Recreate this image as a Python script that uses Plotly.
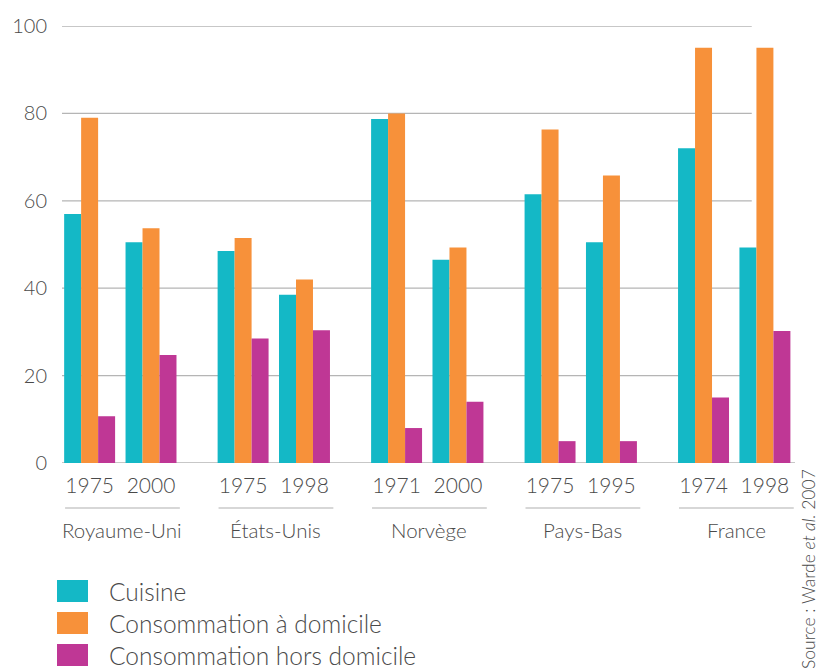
import plotly.graph_objects as go

countries = ["Royaume-Uni", "États-Unis", "Norvège", "Pays-Bas", "France"]
years = ["1975", "2000", "1975", "1998", "1971", "2000", "1975", "1995", "1974", "1998"]
cuisine = [57, 50.5, 48.5, 38.5, 78.7, 46.5, 61.5, 50.5, 72, 49.3]
conso_dom = [79, 53.7, 51.5, 42, 80, 49.3, 76.3, 65.8, 95, 95]
conso_hors = [10.7, 24.7, 28.5, 30.4, 8, 14, 5, 5, 15, 30.2]
series_names = ["Cuisine", "Consommation à domicile", "Consommation hors domicile"]
colors = ["#14b8c6", "#f7913a", "#bf3795"]
yticks = [0, 20, 40, 60, 80, 100]

# x positions: two sub-bars per country, wider gap between countries
xpos = []
for g in range(len(countries)):
    base = g * 2.5
    xpos += [base, base + 1]

fig = go.Figure()
for name, vals, col in zip(series_names, [cuisine, conso_dom, conso_hors], colors):
    fig.add_trace(go.Bar(x=xpos, y=vals, name=name, marker_color=col,
                         marker_line_width=0, showlegend=False))

TXT = "#4a4a4a"
FONT = "Lato"
W = 300

fig.update_layout(
    width=816, height=668,
    margin=dict(l=62, r=21, t=26, b=205),
    paper_bgcolor="white", plot_bgcolor="white",
    barmode="group", bargap=0.17, bargroupgap=0,
    font=dict(family=FONT, color=TXT, weight=W),
)
fig.update_xaxes(range=[-0.45, 11.49], tickvals=xpos, ticktext=years,
                 tickfont=dict(size=21, color=TXT, family=FONT, weight=W),
                 showgrid=False, zeroline=False, showline=False, ticks="",
                 ticklabelstandoff=8)
fig.update_yaxes(range=[0, 100], tickvals=yticks, showgrid=False, zeroline=False,
                 showline=False, ticks="", tickfont=dict(size=20, color=TXT, family=FONT, weight=W),
                 ticklabelstandoff=14)

shapes = []
# gridlines (stop before last group)
for t in yticks[1:]:
    shapes.append(dict(type="line", xref="paper", yref="y", x0=0, x1=0.941, y0=t, y1=t,
                       line=dict(color="#b5b5b5", width=1.3), layer="below"))
# baseline
shapes.append(dict(type="line", xref="paper", yref="y", x0=0, x1=1.0, y0=0, y1=0,
                   line=dict(color="#b5b5b5", width=1.3), layer="below"))

annotations = []
for g, c in enumerate(countries):
    a, b = xpos[2 * g], xpos[2 * g + 1]
    shapes.append(dict(type="line", xref="x", yref="paper", x0=a - 0.4, x1=b + 0.47,
                       y0=-0.103, y1=-0.103, line=dict(color="#b0b0b0", width=1.2)))
    annotations.append(dict(text=c, x=(a + b) / 2 + 0.03, xref="x", y=-0.153, yref="paper",
                            showarrow=False, font=dict(size=20.5, color=TXT, family=FONT, weight=W),
                            xanchor="center", yanchor="middle"))

# legend drawn manually
leg_y = [591, 623, 655]
for name, col, py in zip(series_names, colors, leg_y):
    y0 = (668 - 205 - py) / 437.0
    shapes.append(dict(type="rect", xref="paper", yref="paper",
                       x0=(57 - 62) / 733.0, x1=(88 - 62) / 733.0,
                       y0=y0 - 11 / 437.0, y1=y0 + 11 / 437.0,
                       fillcolor=col, line=dict(width=0)))
    annotations.append(dict(text=name, xref="paper", yref="paper",
                            x=(107 - 62) / 733.0, y=y0, xanchor="left", yanchor="middle",
                            showarrow=False, font=dict(size=24.5, color=TXT, family=FONT, weight=W)))

annotations.append(dict(text="Source : Warde <i>et al.</i> 2007", xref="paper", yref="paper",
                        x=(808 - 62) / 733.0, y=(463 - 467) / 437.0, textangle=-90,
                        xanchor="center", yanchor="top", showarrow=False,
                        font=dict(size=17.5, color=TXT, family=FONT, weight=W)))

fig.update_layout(shapes=shapes, annotations=annotations)
fig.write_html("out.html", config={"displayModeBar": False},
               post_script="document.body.style.margin='0';document.body.style.overflow='hidden';")
